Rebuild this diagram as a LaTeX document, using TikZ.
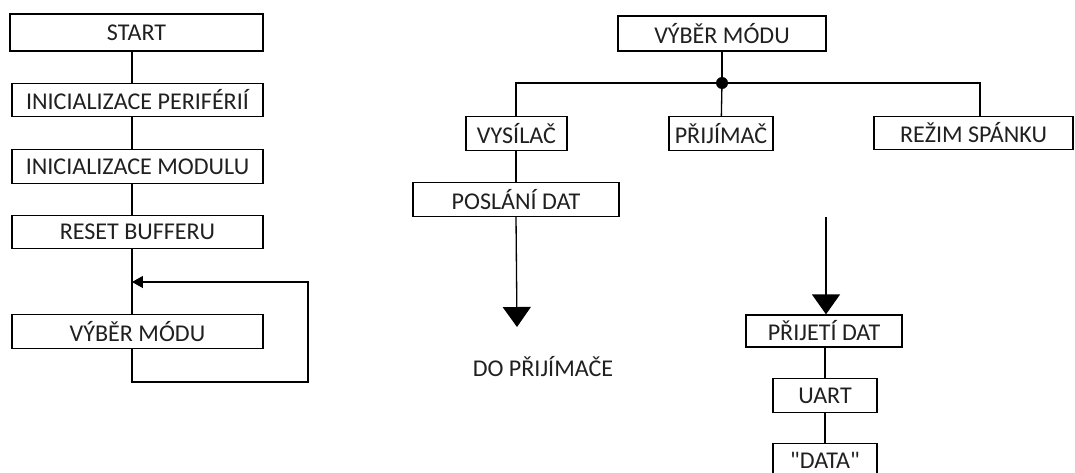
\documentclass[tikz,border=0pt]{standalone}
\usepackage{fontspec}
\setmainfont{Carlito}[Ligatures=TeXOff]
\usepackage{xcolor}
\usetikzlibrary{arrows.meta,positioning}
\definecolor{ink}{HTML}{202020}
\tikzset{
  font=\fontsize{13.7}{16}\selectfont,
  box/.style={draw=black,line width=.75pt,fill=white,text=ink,inner sep=0pt,minimum height=.67cm,align=center},
  startbox/.style={box,line width=1.5pt,minimum height=.74cm},
  wire/.style={line width=.75pt,draw=black},
  bigarrow/.style={wire,-{Triangle[length=.4cm,width=.56cm]}},
  backarrow/.style={wire,-{Triangle[length=.22cm,width=.24cm]}}
}
\begin{document}
\begin{tikzpicture}[x=.02cm,y=-.02cm]
\useasboundingbox (0,0) rectangle (1075,473);

% left column: start-up sequence
\coordinate (spine) at (132,0);
\node[startbox,minimum width=5.06cm] (start) at (136.5,32.5) {START};
\node[box,minimum width=5.02cm] (perif) at (137.5,100) {INICIALIZACE PERIFÉRIÍ};
\node[box,minimum width=5.02cm] (modul) at (137.5,166.5) {INICIALIZACE MODULU};
\node[box,minimum width=5.02cm] (reset) at (137.5,232) {RESET BUFFERU};
\node[box,minimum width=5.02cm] (mode) at (137.5,331.5) {VÝBĚR MÓDU};
\coordinate (loopin) at (132,282);
\coordinate (loopbot) at (132,382);
\coordinate (loopright) at (308,382);

\draw[wire] (start.south -| spine) -- (perif.north -| spine);
\draw[wire] (perif.south -| spine) -- (modul.north -| spine);
\draw[wire] (modul.south -| spine) -- (reset.north -| spine);
\draw[wire] (reset.south -| spine) -- (mode.north -| spine);
\draw[backarrow] (mode.south -| spine) -- (loopbot) -- (loopright) |- (loopin);

% right part: mode selection
\node[box,minimum width=4.16cm,minimum height=.7cm] (select) at (722,33.5) {VÝBĚR MÓDU};
\coordinate (split) at (722,83);
\node[box,minimum width=2.02cm] (tx) at (516.5,133.5) {VYSÍLAČ};
\node[box,minimum width=2.08cm] (rx) at (721,133.5) {PŘIJÍMAČ};
\node[box,minimum width=3.98cm] (sleep) at (973.5,133) {REŽIM SPÁNKU};
\node[box,minimum width=4.12cm] (send) at (516,199.5) {POSLÁNÍ DAT};
\node[text=ink] (torx) at (543,367) {DO PŘIJÍMAČE};

\draw[wire] (select) -- (split);
\fill (split) circle (6);
\draw[wire] (split) -- (rx);
\draw[wire] (split) -| (tx.north -| send.north);
\draw[wire] (split) -| ([xshift=.13cm]sleep.north);
\draw[wire] (tx.south -| send.north) -- (send.north);
\coordinate (tip) at (517,327);
\draw[bigarrow] (send.south) -- (tip);

% receiving branch
\coordinate (rxin) at (826,217);
\node[box,minimum width=3.12cm,minimum height=.64cm] (recv) at (824,331) {PŘIJETÍ DAT};
\node[box,minimum width=2.08cm] (uart) at (825,395.5) {UART};
\node[box,minimum width=2.08cm] (data) at (825,460.5) {"DATA"};
\draw[bigarrow] (rxin) -- (rxin |- recv.north);
\draw[wire] (recv.south -| uart.north) -- (uart.north);
\draw[wire] (uart) -- (data);
\end{tikzpicture}
\end{document}
